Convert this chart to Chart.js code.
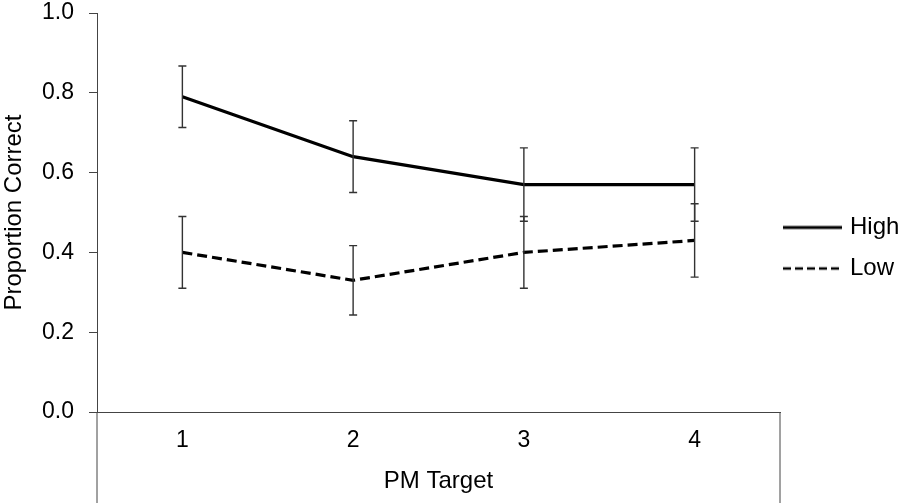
<!DOCTYPE html>
<html>
<head>
<meta charset="utf-8">
<script src="https://cdn.jsdelivr.net/npm/chart.js@4.4.1/dist/chart.umd.min.js"></script>
<style>
  html, body { margin: 0; padding: 0; background: #fff; overflow: hidden; }
  #wrap { width: 900px; height: 503px; }
  canvas { display: block; }
</style>
</head>
<body>
<div id="wrap"><canvas id="chart"></canvas></div>
<script>
const targets = ['1', '2', '3', '4'];
const highValues = [0.79, 0.64, 0.57, 0.57];
const highErrors = [0.077, 0.09, 0.092, 0.092];
const lowValues = [0.40, 0.33, 0.40, 0.43];
const lowErrors = [0.09, 0.087, 0.09, 0.092];
const yTicks = [0, 0.2, 0.4, 0.6, 0.8, 1.0];

const AXIS = '#444';
Chart.defaults.font.family = "'Liberation Sans', Arial, sans-serif";
Chart.defaults.color = '#000';

// little line swatch for the legend (the built-in line point style drops the dash)
function swatch(dash) {
  const c = document.createElement('canvas');
  c.width = 59; c.height = 6;
  const g = c.getContext('2d');
  g.strokeStyle = '#000';
  g.lineWidth = dash.length ? 2.5 : 3;
  g.setLineDash(dash);
  g.beginPath();
  g.moveTo(0, 3); g.lineTo(59, 3);
  g.stroke();
  return c;
}

// error bars with small caps, drawn from the dataset's own errors
const errorBars = {
  id: 'errorBars',
  afterDatasetsDraw(chart) {
    const { ctx, scales: { x, y } } = chart;
    ctx.save();
    ctx.strokeStyle = '#333';
    ctx.lineWidth = 1.4;
    ctx.setLineDash([]);
    chart.data.datasets.forEach(ds => {
      ds.data.forEach((v, i) => {
        const px = x.getPixelForValue(i);
        const top = y.getPixelForValue(v + ds.errors[i]);
        const bot = y.getPixelForValue(v - ds.errors[i]);
        ctx.beginPath();
        ctx.moveTo(px, top); ctx.lineTo(px, bot);
        ctx.moveTo(px - 4, top); ctx.lineTo(px + 4, top);
        ctx.moveTo(px - 4, bot); ctx.lineTo(px + 4, bot);
        ctx.stroke();
      });
    });
    ctx.restore();
  }
};

// the frame keeps going below the zero line, down past the x labels
const frameBelow = {
  id: 'frameBelow',
  afterDraw(chart) {
    const { ctx, chartArea: a } = chart;
    ctx.save();
    ctx.strokeStyle = AXIS;
    ctx.lineWidth = 1;
    ctx.beginPath();
    ctx.moveTo(a.left, a.bottom); ctx.lineTo(a.left, chart.height);
    ctx.moveTo(a.right, a.bottom); ctx.lineTo(a.right, chart.height);
    ctx.stroke();
    ctx.restore();
  }
};

// pull the legend entries a little closer to the plot
const legendNudge = {
  id: 'legendNudge',
  afterLayout(chart) {
    chart.legend.left -= 10;
  }
};

new Chart(document.getElementById('chart'), {
  type: 'line',
  data: {
    labels: targets,
    datasets: [
      {
        label: 'High',
        data: highValues,
        errors: highErrors,
        borderColor: '#000',
        borderWidth: 3.2,
        pointRadius: 0,
        pointStyle: swatch([]),
        tension: 0
      },
      {
        label: 'Low',
        data: lowValues,
        errors: lowErrors,
        borderColor: '#000',
        borderWidth: 3.2,
        borderDash: [10, 5],
        pointRadius: 0,
        pointStyle: swatch([8, 4]),
        tension: 0
      }
    ]
  },
  options: {
    responsive: true,
    maintainAspectRatio: false,
    animation: false,
    layout: { padding: { top: 0, right: 0, bottom: 7, left: 0 } },
    plugins: {
      legend: {
        position: 'right',
        maxWidth: 120,
        labels: {
          usePointStyle: true,
          pointStyleWidth: 51,
          padding: 17,
          font: { size: 24 }
        }
      },
      tooltip: { enabled: false }
    },
    scales: {
      x: {
        offset: true,
        grid: { display: false, drawTicks: false },
        border: { display: true, color: AXIS, width: 1 },
        ticks: { padding: 15, font: { size: 23 } },
        title: { display: true, text: 'PM Target', font: { size: 24 }, padding: 0 },
        afterFit: s => { s.height = 84; }
      },
      y: {
        min: 0,
        max: 1,
        afterBuildTicks: s => { s.ticks = yTicks.map(v => ({ value: v })); },
        grid: { drawOnChartArea: false, drawTicks: true, tickLength: 8, color: AXIS },
        border: { display: true, color: AXIS, width: 1 },
        ticks: { padding: 15, font: { size: 23 }, callback: v => v.toFixed(1) },
        title: { display: true, text: 'Proportion Correct', font: { size: 24 }, padding: 0 },
        afterFit: s => { s.width = 97; s.paddingTop = 13; s.paddingBottom = 13; }
      }
    }
  },
  plugins: [errorBars, frameBelow, legendNudge]
});
</script>
</body>
</html>
